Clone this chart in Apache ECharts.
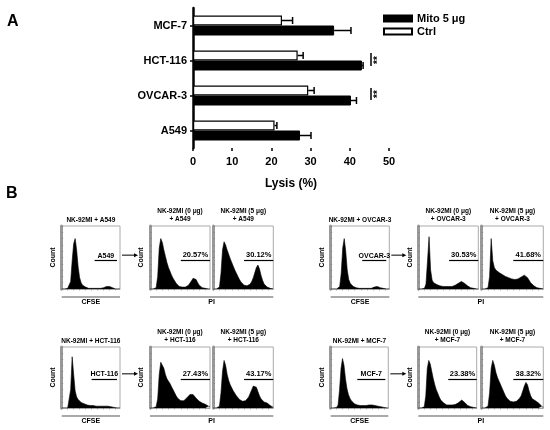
<!DOCTYPE html>
<html>
<head>
<meta charset="utf-8">
<script src="https://cdn.jsdelivr.net/npm/echarts@6/dist/echarts.min.js"></script>
<style>
  html, body { margin: 0; padding: 0; background: #fff; }
  #chart { width: 550px; height: 430px; }
</style>
</head>
<body>
<div id="chart"></div>
<script>
// A: lysis (%) bars
const cellLines = ['MCF-7', 'HCT-116', 'OVCAR-3', 'A549'];
const ctrlLysis = [22.7, 26.7, 29.4, 20.8];
const ctrlErr = [2.7, 1.4, 1.5, 0.6];
const mitoLysis = [36.0, 43.1, 40.3, 27.3];
const mitoErr = [4.3, 0.3, 1.4, 2.8];

// B: flow histograms (40 bins, % of box height)
const panelCells = ['A549', 'OVCAR-3', 'HCT-116', 'MCF-7'];
const pi0Percent = ['20.57%', '30.53%', '27.43%', '23.38%'];
const pi5Percent = ['30.12%', '41.68%', '43.17%', '38.32%'];

const cfseA549 = [0,0,0,0,1,3,12,45,72,80,62,35,18,10,6,4,3,2,1,1,1,1,1,1,1,1,1,1,2,3,4,5,4,3,2,1,0,0,0,0];
const pi0A549 = [0,0,0,0,2,20,65,80,74,62,52,42,34,28,22,17,13,9,6,4,3,3,3,3,4,6,9,13,17,18,15,10,6,4,2,1,1,0,0,0];
const pi5A549 = [0,0,0,0,3,25,62,75,70,62,55,48,42,36,30,25,20,15,11,8,6,5,5,6,8,12,18,26,34,38,32,22,14,8,5,3,2,1,0,0];

const cfseOvcar = [0,0,0,0,0,1,4,25,65,80,60,30,15,9,6,4,3,2,1,1,1,1,1,1,1,1,1,1,2,3,4,4,3,2,1,1,0,0,0,0];
const pi0Ovcar = [0,0,0,0,1,8,45,83,30,14,10,8,7,6,5,5,4,4,4,4,4,4,4,5,6,7,9,11,12,11,9,7,5,3,2,1,1,0,0,0];
const pi5Ovcar = [0,0,0,0,2,20,80,45,34,30,28,26,25,23,22,20,19,18,17,16,15,15,15,16,17,19,21,22,21,18,14,10,7,5,3,2,1,1,0,0];

const cfseHct = [0,0,0,0,0,2,30,84,55,28,18,14,11,9,8,7,6,5,5,4,4,4,3,3,3,3,3,3,3,3,3,3,3,2,2,1,1,0,0,0];
const pi0Hct = [0,0,0,0,2,15,55,75,78,65,55,48,44,40,35,30,25,20,16,13,12,11,12,14,17,20,22,23,22,19,16,13,11,9,8,7,6,5,3,2];
const pi5Hct = [0,0,0,0,3,25,60,78,70,55,45,38,33,28,24,20,17,14,12,11,11,12,14,18,24,30,36,38,34,27,20,15,12,10,9,8,6,4,2,1];

const cfseMcf = [0,0,0,0,1,5,30,65,81,70,48,32,22,16,12,9,7,6,5,4,4,4,4,4,4,4,5,5,5,5,4,4,3,2,2,1,1,0,0,0];
const pi0Mcf = [0,0,0,0,2,20,65,78,72,60,48,38,30,24,18,13,10,8,6,5,5,5,5,5,5,6,7,9,11,13,12,9,6,4,3,2,1,1,0,0];
const pi5Mcf = [0,0,0,0,3,25,65,78,70,58,50,44,38,32,26,20,16,13,11,10,10,10,11,13,16,20,28,36,42,38,28,20,15,13,12,10,8,5,3,1];

const FONT = '"Liberation Sans", Arial, sans-serif';

// layout of the four flow panels (pixels)
const panels = [
    { top: 226, h: 63, gateY: 45, gate1: 0.57, boxes: [[61.7, 120], [150, 210], [213.3, 273.3]], hist: [cfseA549, pi0A549, pi5A549] },
    { top: 226, h: 63, gateY: 45, gate1: 0.53, boxes: [[330.7, 389.3], [418.3, 478.3], [481.7, 543.3]], hist: [cfseOvcar, pi0Ovcar, pi5Ovcar] },
    { top: 347, h: 61, gateY: 47, gate1: 0.51, boxes: [[61.7, 120], [150, 210], [213.3, 273.3]], hist: [cfseHct, pi0Hct, pi5Hct] },
    { top: 347, h: 61, gateY: 47, gate1: 0.47, boxes: [[330.7, 388.3], [418.3, 476.7], [481.7, 543.3]], hist: [cfseMcf, pi0Mcf, pi5Mcf] }
];

let chart = echarts.init(document.getElementById('chart'));

function errSeries(name, vals, errs, offset) {
    return {
        type: 'custom',
        name: name,
        xAxisIndex: 0,
        yAxisIndex: 0,
        z: 5,
        data: vals.map(function (v, i) { return [v, i, errs[i]]; }),
        renderItem: function (params, api) {
            let p0 = api.coord([api.value(0), api.value(1)]);
            let p1 = api.coord([api.value(0) + api.value(2), api.value(1)]);
            let y = p0[1] + offset;
            return {
                type: 'group',
                children: [
                    { type: 'line', shape: { x1: p0[0], y1: y, x2: p1[0], y2: y }, style: { stroke: '#000', lineWidth: 1.5 } },
                    { type: 'line', shape: { x1: p1[0], y1: y - 3.5, x2: p1[0], y2: y + 3.5 }, style: { stroke: '#000', lineWidth: 1.5 } }
                ]
            };
        }
    };
}

let grids = [{ left: 193, top: 8, width: 196, height: 140 }];
let xAxes = [{
    type: 'value', gridIndex: 0, min: 0, max: 50, interval: 10,
    axisLine: { lineStyle: { color: '#000', width: 2.5 } },
    axisTick: { show: true, length: 3, lineStyle: { color: '#000', width: 1.5 } },
    axisLabel: { color: '#000', fontWeight: 'bold', fontSize: 11, fontFamily: FONT, margin: 8 },
    splitLine: { show: false },
    name: 'Lysis (%)', nameLocation: 'middle', nameGap: 30,
    nameTextStyle: { color: '#000', fontWeight: 'bold', fontSize: 12, fontFamily: FONT }
}];
let yAxes = [{
    type: 'category', gridIndex: 0, data: cellLines, inverse: true,
    axisLine: { lineStyle: { color: '#000', width: 2.5 } },
    axisTick: { show: true, alignWithLabel: true, length: 3, lineStyle: { color: '#000', width: 1.5 } },
    axisLabel: { color: '#000', fontWeight: 'bold', fontSize: 11, fontFamily: FONT, margin: 6 }
}];
let series = [
    {
        name: 'Ctrl', type: 'bar', xAxisIndex: 0, yAxisIndex: 0, data: ctrlLysis,
        barWidth: 10, barGap: '0%',
        itemStyle: { color: '#fff', borderColor: '#000', borderWidth: 1.2 }
    },
    {
        name: 'Mito 5 μg', type: 'bar', xAxisIndex: 0, yAxisIndex: 0, data: mitoLysis,
        barWidth: 10, barGap: '0%',
        itemStyle: { color: '#000', borderColor: '#000', borderWidth: 1 }
    },
    errSeries('errCtrl', ctrlLysis, ctrlErr, -5),
    errSeries('errMito', mitoLysis, mitoErr, 5)
];

let graphics = [
    { type: 'text', style: { text: 'A', x: 7, y: 22, verticalAlign: 'middle', fontSize: 16, fontWeight: 'bold', fontFamily: FONT, fill: '#000' } },
    { type: 'text', style: { text: 'B', x: 6, y: 194, verticalAlign: 'middle', fontSize: 16, fontWeight: 'bold', fontFamily: FONT, fill: '#000' } },
    // significance marks
    { type: 'line', shape: { x1: 371, y1: 53, x2: 371, y2: 66 }, style: { stroke: '#000', lineWidth: 1.5 } },
    { type: 'line', shape: { x1: 371, y1: 88, x2: 371, y2: 100 }, style: { stroke: '#000', lineWidth: 1.5 } },
    { type: 'text', x: 378, y: 60, rotation: Math.PI / 2, style: { text: '**', align: 'center', verticalAlign: 'middle', fontSize: 10, fontWeight: 'bold', fontFamily: FONT, fill: '#000' } },
    { type: 'text', x: 378, y: 94, rotation: Math.PI / 2, style: { text: '**', align: 'center', verticalAlign: 'middle', fontSize: 10, fontWeight: 'bold', fontFamily: FONT, fill: '#000' } }
];

function txt(text, x, y, size, rot) {
    return {
        type: 'text', x: x, y: y, rotation: rot || 0,
        style: { text: text, align: 'center', verticalAlign: 'middle', fontSize: size, fontWeight: 'bold', fontFamily: FONT, fill: '#000', lineHeight: size + 1.5 }
    };
}

panels.forEach(function (p, pi) {
    let cell = panelCells[pi];
    let bottom = p.top + p.h;
    let mid = p.top + p.h / 2;
    p.boxes.forEach(function (b, bi) {
        let gi = grids.length;
        grids.push({ left: b[0], top: p.top, width: b[1] - b[0], height: p.h, show: true, borderColor: '#aaa', borderWidth: 1 });
        xAxes.push({
            type: 'category', gridIndex: gi, data: p.hist[bi].map(function (v, i) { return i; }), boundaryGap: false,
            axisLine: { lineStyle: { color: '#999', width: 0.8 } },
            axisTick: { show: true, interval: 3, length: 1.5, lineStyle: { color: '#777', width: 0.6 } },
            axisLabel: { show: false }, splitLine: { show: false }
        });
        yAxes.push({
            type: 'value', gridIndex: gi, min: 0, max: 100, interval: 10,
            axisLine: { show: true, lineStyle: { color: '#999', width: 3 } },
            axisTick: { show: true, inside: true, length: 1.5, lineStyle: { color: '#777', width: 0.6 } },
            axisLabel: { show: false }, splitLine: { show: false }
        });
        let gateStart = bi === 0 ? p.gate1 : 0.5;
        let gateEnd = bi === 0 ? 37 : 39;
        let gateLabel = bi === 0 ? cell : (bi === 1 ? pi0Percent[pi] : pi5Percent[pi]);
        series.push({
            type: 'line', xAxisIndex: gi, yAxisIndex: gi, data: p.hist[bi],
            symbol: 'none', lineStyle: { color: '#000', width: 0.6 },
            areaStyle: { color: '#000', opacity: 1 },
            silent: true,
            markLine: {
                silent: true, symbol: 'none',
                lineStyle: { color: '#000', width: 1.2, type: 'solid' },
                label: {
                    show: true, position: 'insideMiddleTop', distance: 1.5,
                    formatter: gateLabel,
                    color: '#000', fontSize: bi === 0 ? 7 : 7.5, fontWeight: 'bold', fontFamily: FONT
                },
                data: [[{ coord: [Math.round(gateStart * 39), p.gateY] }, { coord: [gateEnd, p.gateY] }]]
            }
        });
        if (bi < 2) {
            graphics.push(txt('Count', b[0] - 8.5, mid, 7, Math.PI / 2));
        }
    });
    let b1 = p.boxes[0], b2 = p.boxes[1], b3 = p.boxes[2];
    let c1 = (b1[0] + b1[1]) / 2;
    // titles
    graphics.push(txt('NK-92MI + ' + cell, c1, p.top - 5.5, 6.5));
    graphics.push(txt('NK-92MI (0 μg)\n+ ' + cell, (b2[0] + b2[1]) / 2, p.top - 11, 6.5));
    graphics.push(txt('NK-92MI (5 μg)\n+ ' + cell, (b3[0] + b3[1]) / 2, p.top - 11, 6.5));
    // axis lines under boxes and their names
    graphics.push({ type: 'line', shape: { x1: b1[0], y1: bottom + 8, x2: b1[1], y2: bottom + 8 }, style: { stroke: '#555', lineWidth: 1.2 } });
    graphics.push({ type: 'line', shape: { x1: b2[0], y1: bottom + 8, x2: b3[1], y2: bottom + 8 }, style: { stroke: '#555', lineWidth: 1.2 } });
    graphics.push(txt('CFSE', c1, bottom + 13.5, 7));
    graphics.push(txt('PI', (b2[0] + b3[1]) / 2, bottom + 13.5, 7));
    // arrow from gated population to PI staining
    let ay = p.top + p.h * (1 - p.gateY / 100) - 5.5;
    let ax1 = b1[1] + 2, ax2 = b2[0] - 12;
    graphics.push({ type: 'line', shape: { x1: ax1, y1: ay, x2: ax2 - 3, y2: ay }, style: { stroke: '#000', lineWidth: 1 } });
    graphics.push({ type: 'polygon', shape: { points: [[ax2, ay], [ax2 - 4, ay - 2], [ax2 - 4, ay + 2]] }, style: { fill: '#000' } });
});

let option = {
    backgroundColor: '#fff',
    animation: false,
    legend: {
        data: ['Mito 5 μg', 'Ctrl'],
        orient: 'vertical', left: 378, top: 8,
        icon: 'rect', itemWidth: 28, itemHeight: 6, itemGap: 2,
        textStyle: { color: '#000', fontWeight: 'bold', fontSize: 11, fontFamily: FONT }
    },
    grid: grids,
    xAxis: xAxes,
    yAxis: yAxes,
    series: series,
    graphic: graphics
};

chart.setOption(option);
</script>
</body>
</html>
